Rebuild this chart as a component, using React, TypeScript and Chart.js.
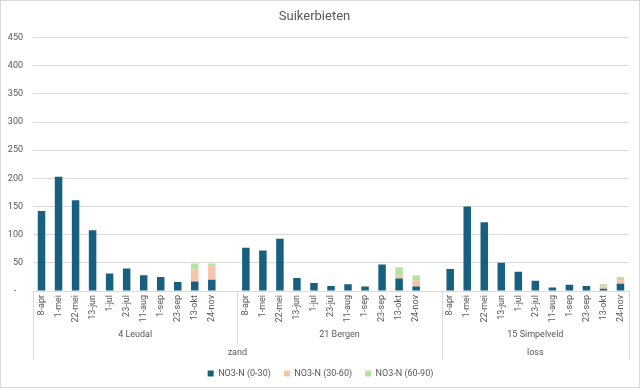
import React, { useEffect, useRef } from "react";
import { Chart, registerables } from "chart.js";

Chart.register(...registerables);

// ---------- data ----------
const dates = ["8-apr", "1-mei", "22-mei", "13-jun", "1-jul", "23-jul", "11-aug", "1-sep", "23-sep", "13-okt", "24-nov"];
const locations = ["4 Leudal", "21 Bergen", "15 Simpelveld"];
const soils = ["zand", "loss"];
const soilOfLocation = [0, 0, 1];

const leudal0_30 = [142, 203, 161, 108, 31, 40, 28, 25, 16, 17, 20];
const leudal30_60 = [0, 0, 0, 0, 0, 0, 0, 0, 0, 21, 24];
const leudal60_90 = [0, 0, 0, 0, 0, 0, 0, 0, 0, 11, 5];

const bergen0_30 = [77, 72, 93, 23, 14, 9, 12, 8, 47, 22, 8];
const bergen30_60 = [0, 0, 0, 0, 0, 0, 0, 0, 0, 5, 11];
const bergen60_90 = [0, 0, 0, 0, 0, 0, 0, 0, 0, 15, 9];

const simpelveld0_30 = [39, 150, 122, 50, 34, 18, 6, 11, 9, 4, 13];
const simpelveld30_60 = [0, 0, 0, 0, 0, 0, 0, 0, 0, 4, 6];
const simpelveld60_90 = [0, 0, 0, 0, 0, 0, 0, 0, 0, 4, 6];

const seriesNames = ["NO3-N (0-30)", "NO3-N (30-60)", "NO3-N (60-90)"];
const seriesColors = ["#17607F", "#F6C4AA", "#B5E3A0"];

const yMin = 0;
const yMax = 450;
const yStep = 50;

const title = "Suikerbieten";

// ---------- build category table (blank slot after each group except last) ----------
const perLocation = [
  [leudal0_30, leudal30_60, leudal60_90],
  [bergen0_30, bergen30_60, bergen60_90],
  [simpelveld0_30, simpelveld30_60, simpelveld60_90],
];

const categories: string[] = [];
const seriesData: (number | null)[][] = [[], [], []];
const locSpans: { start: number; end: number }[] = [];
locations.forEach((_, li) => {
  const start = categories.length;
  dates.forEach((d, di) => {
    categories.push(d);
    for (let s = 0; s < 3; s++) seriesData[s].push(perLocation[li][s][di]);
  });
  if (li < locations.length - 1) {
    categories.push("");
    for (let s = 0; s < 3; s++) seriesData[s].push(null);
  }
  locSpans.push({ start, end: categories.length });
});

const FONT = "Roboto";
const TEXT = "#595959";
const LINE = "#D9D9D9";

const groupPlugin = {
  id: "groupLabels",
  afterLayout(chart: any) {
    // centre the legend on the whole canvas rather than the padded area
    if (chart.legend) {
      chart.legend.left += 6;
      chart.legend.right += 6;
    }
  },
  beforeDraw(chart: any) {
    const ctx = chart.ctx;
    ctx.save();
    ctx.fillStyle = "#ffffff";
    ctx.fillRect(0, 0, chart.width, chart.height);
    ctx.restore();
  },
  afterDraw(chart: any) {
    const x = chart.scales.x;
    const ctx = chart.ctx;
    const top = x.top;
    const px = (v: number) => x.getPixelForValue(v);
    ctx.save();
    ctx.strokeStyle = LINE;
    ctx.lineWidth = 1;
    ctx.fillStyle = TEXT;
    ctx.font = `9px ${FONT}`;
    ctx.textAlign = "center";
    ctx.textBaseline = "middle";

    const shortBottom = top + 52;
    const longBottom = top + 69;

    const boundaries: { v: number; long: boolean }[] = [];
    locSpans.forEach((sp, i) => {
      const long = i === 0 || soilOfLocation[i] !== soilOfLocation[i - 1];
      boundaries.push({ v: sp.start - 0.5, long });
    });
    boundaries.push({ v: locSpans[locSpans.length - 1].end - 0.5, long: true });
    boundaries.forEach((b) => {
      const xx = Math.round(px(b.v)) + 0.5;
      ctx.beginPath();
      ctx.moveTo(xx, top);
      ctx.lineTo(xx, b.long ? longBottom : shortBottom);
      ctx.stroke();
    });

    locSpans.forEach((sp, i) => {
      const cx = (px(sp.start - 0.5) + px(sp.end - 0.5)) / 2;
      ctx.fillText(locations[i], cx, top + 44);
    });

    soils.forEach((s, si) => {
      const idx = soilOfLocation.map((v, i) => (v === si ? i : -1)).filter((i) => i >= 0);
      const a = locSpans[idx[0]].start - 0.5;
      const b = locSpans[idx[idx.length - 1]].end - 0.5;
      ctx.fillText(s, (px(a) + px(b)) / 2, top + 62);
    });

    ctx.strokeStyle = LINE;
    ctx.strokeRect(0.5, 0.5, chart.width - 1, chart.height - 1);
    ctx.restore();
  },
};

export default function App() {
  const ref = useRef<HTMLCanvasElement>(null);
  useEffect(() => {
    if (!ref.current) return;
    const chart = new Chart(ref.current, {
      type: "bar",
      data: {
        labels: categories,
        datasets: seriesNames.map((name, i) => ({
          label: name,
          data: seriesData[i],
          backgroundColor: seriesColors[i],
          borderWidth: 0,
          barPercentage: 0.44,
          categoryPercentage: 1.0,
        })),
      },
      options: {
        animation: false,
        responsive: false,
        devicePixelRatio: 1,
        layout: { padding: { left: 0, right: 11, top: 0, bottom: 0 } },
        plugins: {
          title: {
            display: true,
            text: title,
            color: TEXT,
            font: { family: FONT, size: 13, weight: "normal" },
            padding: { top: 9, bottom: 13 },
          },
          legend: {
            position: "bottom",
            labels: {
              boxWidth: 6,
              boxHeight: 6,
              padding: 13,
              color: TEXT,
              font: { family: FONT, size: 9 },
            },
          },
          tooltip: { enabled: false },
        },
        scales: {
          x: {
            stacked: true,
            grid: { display: true, drawOnChartArea: false, drawTicks: false },
            border: { display: true, color: LINE },
            ticks: {
              autoSkip: false,
              minRotation: 90,
              maxRotation: 90,
              padding: 4,
              color: TEXT,
              font: { family: FONT, size: 9 },
            },
            afterFit: (s: any) => {
              s.height = 65;
            },
          },
          y: {
            stacked: true,
            min: yMin,
            max: yMax,
            grid: { color: LINE, drawTicks: false },
            border: { display: false },
            ticks: {
              stepSize: yStep,
              padding: 10,
              color: TEXT,
              font: { family: FONT, size: 9 },
              callback: (v: any) => (v === 0 ? "-   " : String(v)),
            },
            afterFit: (s: any) => {
              s.width = 33;
            },
          },
        },
      },
      plugins: [groupPlugin],
    });
    return () => chart.destroy();
  }, []);

  return (
    <div style={{ position: "absolute", left: 0, top: 0, width: 640, height: 388 }}>
      <canvas ref={ref} width={640} height={388} style={{ width: 640, height: 388, display: "block" }} />
    </div>
  );
}
